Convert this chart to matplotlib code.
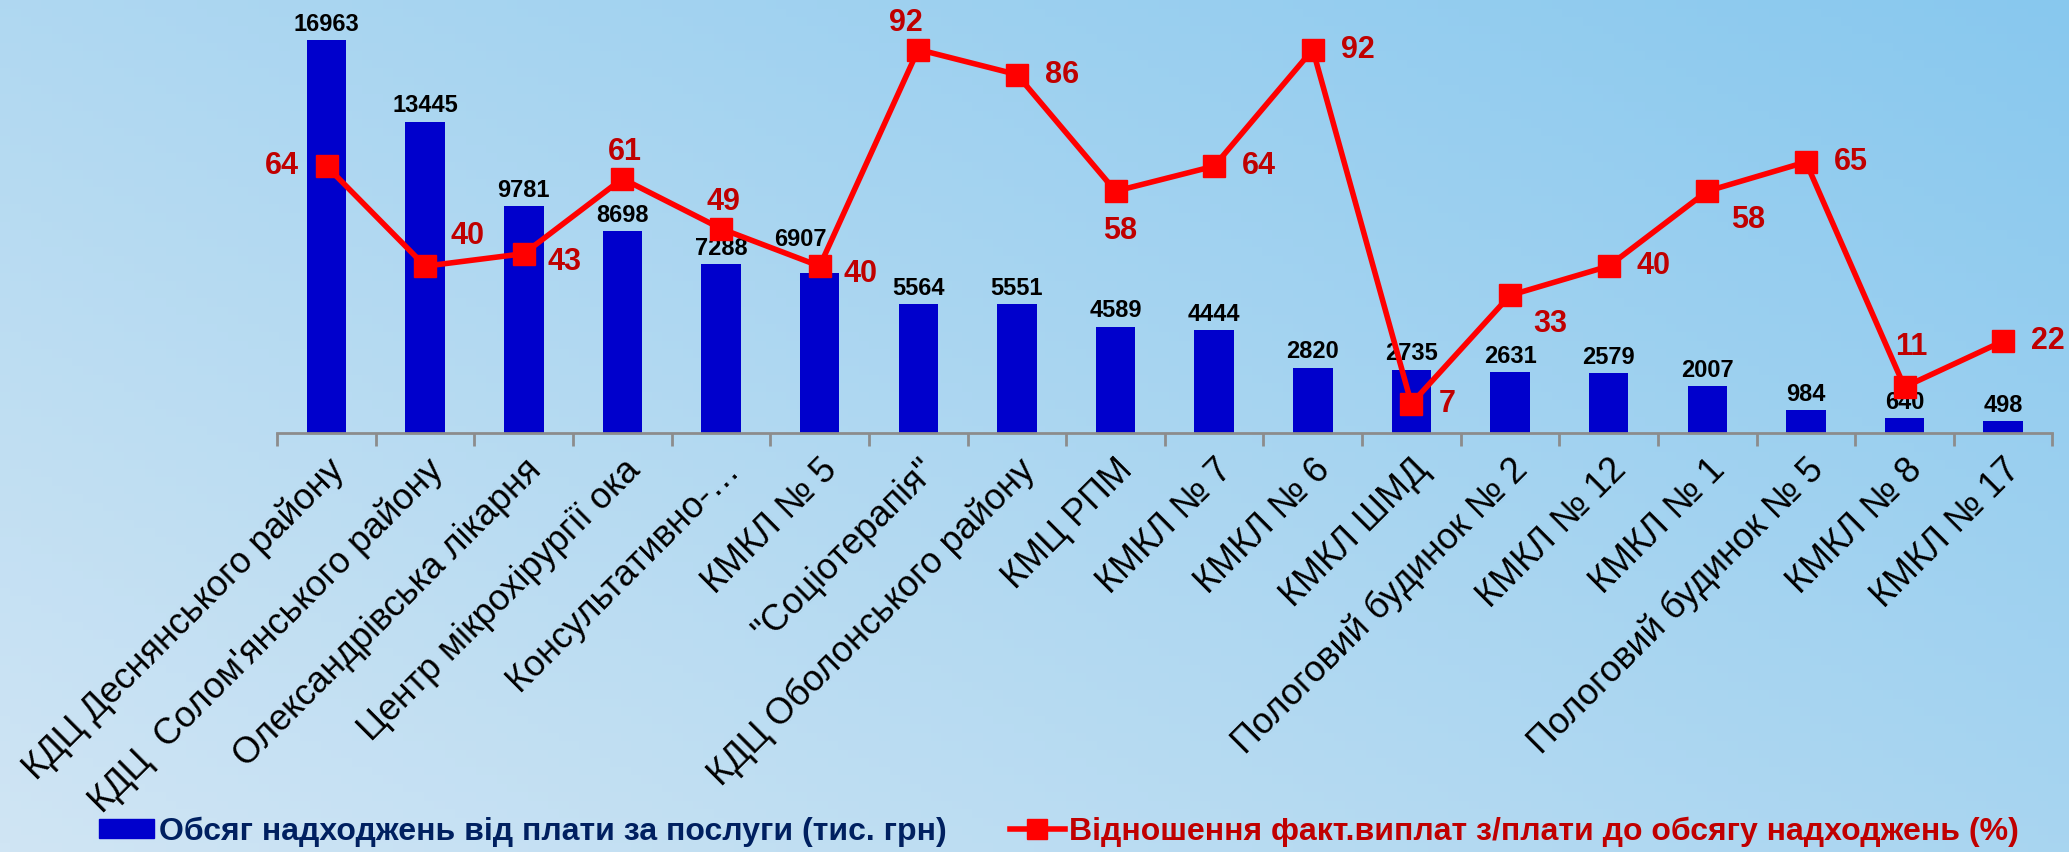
import numpy as np
import matplotlib
matplotlib.use('Agg')
import matplotlib.pyplot as plt
from matplotlib.patches import Patch
from matplotlib.lines import Line2D

plt.rcParams['font.family'] = ['Liberation Sans', 'DejaVu Sans']

categories = ['КДЦ Деснянського району', 'КДЦ  Солом\'янського району', 'Олександрівська лікарня',
              'Центр мікрохірургії ока', 'Консультативно-…', 'КМКЛ № 5', '"Соціотерапія"',
              'КДЦ Оболонського району', 'КМЦ РПМ', 'КМКЛ № 7', 'КМКЛ № 6', 'КМКЛ ШМД',
              'Пологовий будинок № 2', 'КМКЛ № 12', 'КМКЛ № 1', 'Пологовий будинок № 5',
              'КМКЛ № 8', 'КМКЛ № 17']
revenue = [16963, 13445, 9781, 8698, 7288, 6907, 5564, 5551, 4589, 4444,
           2820, 2735, 2631, 2579, 2007, 984, 640, 498]
ratio = [64, 40, 43, 61, 49, 40, 92, 86, 58, 64, 92, 7, 33, 40, 58, 65, 11, 22]

bar_label = 'Обсяг надходжень від плати за послуги (тис. грн)'
line_label = 'Відношення факт.виплат з/плати до обсягу надходжень (%)'

# where each percentage label sits relative to its marker
label_pos = ['left', 'upright', 'rightlow', 'up', 'up', 'rightlow', 'upleft', 'right', 'down', 'right',
             'right', 'right', 'downright', 'right', 'downright', 'right', 'upfar', 'right']
offsets = {'left': (-20, 0, 'right'), 'right': (20, 0, 'left'),
           'rightlow': (17, -6, 'left'), 'upright': (18, 22, 'left'),
           'up': (2, 19, 'center'), 'upleft': (-9, 19, 'center'),
           'upfar': (5, 29, 'center'), 'down': (3, -29, 'center'),
           'downright': (17, -21, 'left')}
# a bar label that was nudged by hand in the original
bar_label_shift = {5: (-14, 16)}

fig = plt.figure(figsize=(20.69, 8.52), dpi=100)

# background gradient
bg = fig.add_axes([0, 0, 1, 1], zorder=-10)
h, w = 100, 200
yy, xx = np.mgrid[0:1:h * 1j, 0:1:w * 1j]
t = np.clip(0.55 * xx + 0.45 * (1 - yy), 0, 1)[..., None]
c_light = np.array([208, 229, 244]) / 255
c_dark = np.array([136, 200, 238]) / 255
bg.imshow(c_light * (1 - t) + c_dark * t, aspect='auto', extent=[0, 1, 0, 1], origin='upper')
bg.axis('off')

ax1 = fig.add_axes([0.134, 0.492, 0.858, 0.489])
ax1.patch.set_alpha(0)
x = np.arange(len(categories))
bars = ax1.bar(x, revenue, width=0.4, color='#0000CC', zorder=2)
for i, (xi, v) in enumerate(zip(x, revenue)):
    dx, dy = bar_label_shift.get(i, (0, 3))
    ax1.annotate(str(v), (xi, v), xytext=(dx, dy), textcoords='offset points',
                 ha='center', va='bottom', fontsize=17, fontweight='bold', color='black')
ax1.set_ylim(0, 18000)
ax1.set_xlim(-0.5, len(categories) - 0.5)
ax1.set_yticks([])
for s in ['left', 'right', 'top']:
    ax1.spines[s].set_visible(False)
ax1.spines['bottom'].set_color('#8c8c8c')
ax1.spines['bottom'].set_linewidth(2)
ax1.set_xticks(x)
ax1.set_xticklabels(categories, rotation=45, ha='right', rotation_mode='anchor', fontsize=26)
ax1.set_xticks(np.arange(-0.5, len(categories)), minor=True)
ax1.tick_params(axis='x', which='major', length=0, pad=14)
ax1.tick_params(axis='x', which='minor', length=9, width=2, color='#8c8c8c')

ax2 = ax1.twinx()
ax2.plot(x, ratio, color='#FF0000', lw=4, marker='s', markersize=16, zorder=3)
ax2.set_ylim(0, 100)
ax2.set_yticks([])
for s in ['left', 'right', 'top', 'bottom']:
    ax2.spines[s].set_visible(False)
for xi, v, p in zip(x, ratio, label_pos):
    dx, dy, ha = offsets[p]
    ax2.annotate(str(v), (xi, v), xytext=(dx, dy), textcoords='offset points',
                 ha=ha, va='center', fontsize=22, fontweight='bold', color='#C00000')

handles = [Patch(color='#0000CC'),
           Line2D([], [], color='#FF0000', lw=4, marker='s', markersize=14)]
leg = fig.legend(handles, [bar_label, line_label], ncol=2, loc='center',
                 bbox_to_anchor=(0.512, 0.024), frameon=False,
                 prop={'weight': 'bold', 'size': 23}, handlelength=1.7, handleheight=0.55,
                 handletextpad=0.15, columnspacing=2.0)
leg.get_texts()[0].set_color('#002060')
leg.get_texts()[1].set_color('#C00000')

fig.savefig('out.png', dpi=100)
